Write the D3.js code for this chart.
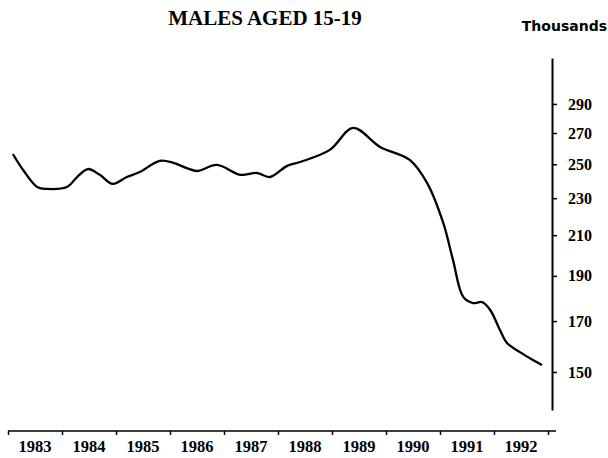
<!DOCTYPE html>
<html>
<head>
<meta charset="utf-8">
<script src="https://cdn.jsdelivr.net/npm/d3@7"></script>
<style>
  body { margin: 0; background: #fff; }
  svg { display: block; font-family: "Liberation Serif", "DejaVu Serif", serif; }
</style>
</head>
<body>
<div id="chart"></div>
<script>
// males aged 15-19, thousands (log scale on the right)
const times = [1983.09, 1983.28, 1983.54, 1983.72, 1984.09, 1984.28, 1984.48, 1984.70, 1984.94,
  1985.20, 1985.44, 1985.81, 1986.06, 1986.31, 1986.50, 1986.87, 1987.30, 1987.61, 1987.85,
  1988.17, 1988.41, 1988.96, 1989.39, 1989.89, 1990.44, 1990.76, 1991.06, 1991.24, 1991.43,
  1991.61, 1991.78, 1991.93, 1992.11, 1992.24, 1992.48, 1992.72, 1992.89];
const values = [256.4, 246.5, 236.4, 235.3, 236.4, 242.3, 247.1, 243.6, 238.2,
  242.3, 245.3, 252.1, 250.9, 247.7, 245.9, 249.6, 243.6, 244.7, 242.3,
  249.0, 251.4, 259.0, 273.4, 260.9, 252.7, 238.8, 216.4, 197.6, 180.4,
  177.7, 178.1, 174.7, 166.3, 161.1, 157.5, 154.5, 152.6];
const years = [1983, 1984, 1985, 1986, 1987, 1988, 1989, 1990, 1991, 1992];
const yTicks = [150, 170, 190, 210, 230, 250, 270, 290];

const W = 608, H = 458;
const svg = d3.select('#chart').append('svg').attr('width', W).attr('height', H);

const x = d3.scaleLinear().domain([1983, 1993]).range([8, 548]);
const y = d3.scaleLog().domain([136.6, 324.7]).range([410, 58]);

// title
svg.append('text').attr('x', 265).attr('y', 25).attr('text-anchor', 'middle')
  .style('font-size', '21px').style('font-weight', 'bold').text('MALES AGED 15-19');
svg.append('text').attr('x', 607).attr('y', 31).attr('text-anchor', 'end')
  .style('font-family', '"DejaVu Sans", sans-serif')
  .style('font-size', '14px').style('font-weight', 'bold').text('Thousands');

// y axis on the right
const axisY = svg.append('g').attr('transform', 'translate(552,0)')
  .call(d3.axisRight(y).tickValues(yTicks).tickSize(5).tickPadding(11).tickSizeOuter(0).tickFormat(d3.format('d')));
axisY.select('.domain').attr('stroke-width', 2);
axisY.selectAll('line').attr('stroke-width', 1.5);
axisY.selectAll('text').style('font-size', '16px').style('font-weight', 'bold')
  .style('font-family', '"Liberation Serif", serif').attr('fill', '#000');

// x axis
const axisX = svg.append('g').attr('transform', 'translate(0,431)')
  .call(d3.axisBottom(x).tickValues(d3.range(1983, 1994)).tickSize(4).tickSizeOuter(0).tickFormat(''));
axisX.select('.domain').attr('d', `M${x(1983)},0H556`).attr('stroke-width', 1.5);
axisX.selectAll('line').attr('stroke-width', 1.5);

svg.append('g').selectAll('text').data(years).enter().append('text')
  .attr('x', d => x(d + 0.5)).attr('y', 452).attr('text-anchor', 'middle')
  .style('font-size', '16.5px').style('font-weight', 'bold').text(d => d);

// series
const line = d3.line().x((d, i) => x(times[i])).y(d => y(d)).curve(d3.curveCatmullRom.alpha(0.5));
svg.append('path').datum(values).attr('d', line)
  .attr('fill', 'none').attr('stroke', '#000').attr('stroke-width', 2.3).attr('stroke-linejoin', 'round');
</script>
</body>
</html>
